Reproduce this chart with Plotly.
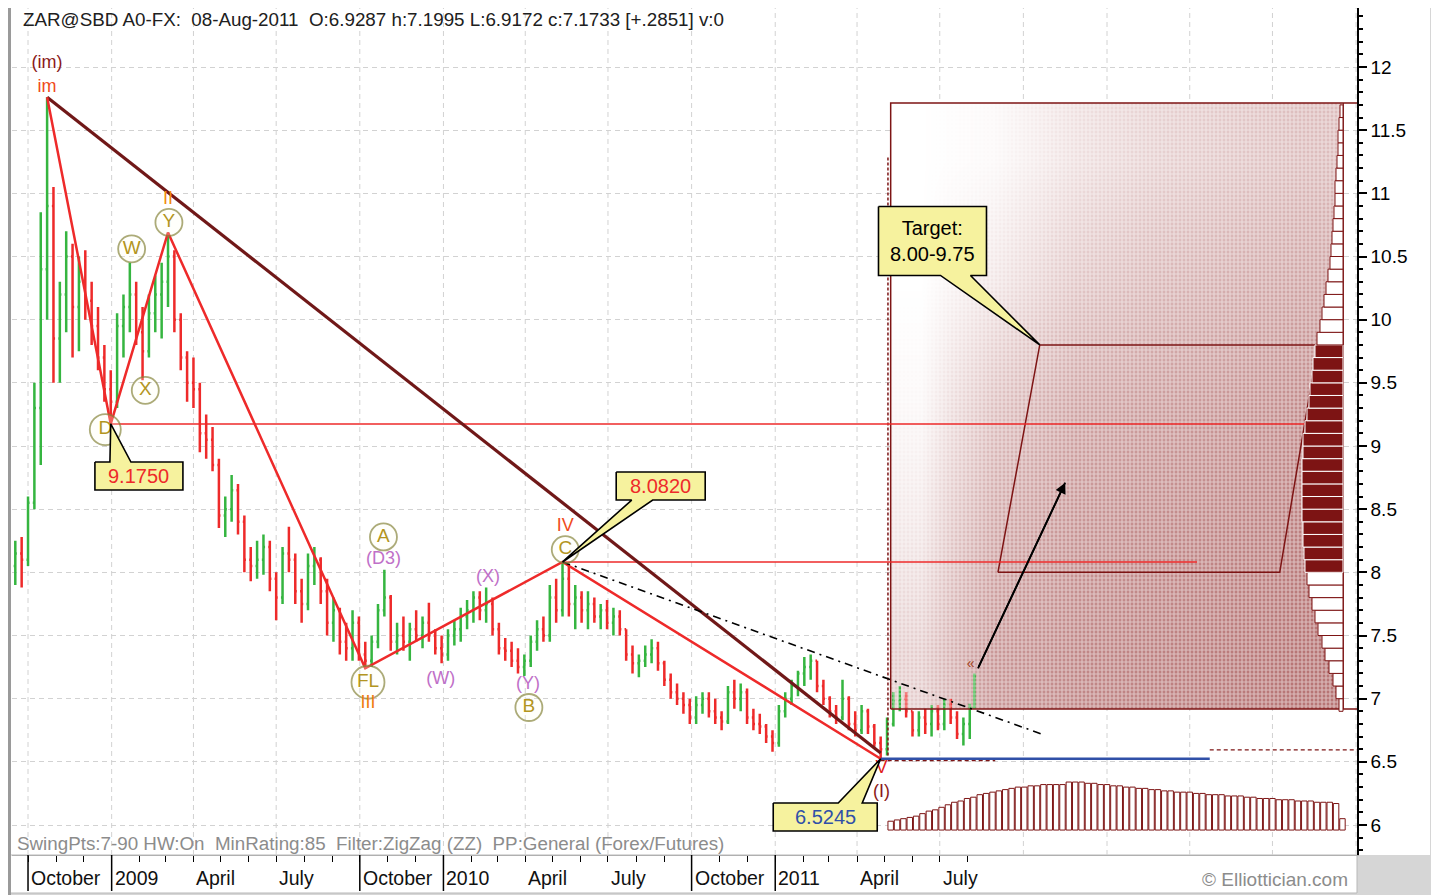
import pandas as pd
import plotly.graph_objects as go

FONT = "Liberation Sans, Arial, sans-serif"

# ---------------- weekly price bars ----------------
bar_dates = list(pd.date_range("2008-09-17", periods=151, freq="7D").strftime("%Y-%m-%d")) + ["2011-08-08"]

opens = [8.05, 8.15, 8.10, 8.55, 9.30, 10.40, 10.90, 9.85, 10.20, 10.50,
         10.10, 10.30, 10.15, 9.95, 9.70, 9.45, 9.35, 9.95, 10.10, 10.20,
         9.90, 9.75, 10.05, 10.20, 10.30, 10.50, 10.00, 9.70, 9.50, 9.45,
         9.10, 9.05, 8.85, 8.45, 8.50, 8.65, 8.40, 8.10, 8.05, 8.10,
         8.20, 7.95, 7.80, 8.15, 8.10, 7.85, 7.75, 8.05, 8.10, 7.85,
         7.60, 7.70, 7.45, 7.40, 7.60, 7.35, 7.30, 7.45, 7.70, 7.80,
         7.45, 7.50, 7.45, 7.55, 7.50, 7.60, 7.50, 7.40, 7.35, 7.50,
         7.55, 7.65, 7.70, 7.80, 7.70, 7.75, 7.55, 7.40, 7.38, 7.30,
         7.25, 7.30, 7.45, 7.55, 7.50, 7.80, 7.70, 7.95, 7.75, 7.80,
         7.70, 7.75, 7.65, 7.70, 7.60, 7.65, 7.55, 7.35, 7.28, 7.30,
         7.35, 7.40, 7.28, 7.15, 7.05, 7.00, 6.95, 6.85, 6.95, 7.00,
         6.90, 6.85, 6.82, 7.05, 7.00, 7.05, 6.85, 6.80, 6.78, 6.70,
         6.65, 6.90, 7.00, 7.10, 7.20, 7.25, 7.30, 7.10, 7.00, 6.90,
         6.85, 7.00, 6.80, 6.75, 6.90, 6.78, 6.65, 6.60, 6.80, 6.98,
         7.00, 6.90, 6.75, 6.85, 6.80, 6.90, 6.80, 6.95, 6.85, 6.72,
         6.80, 6.9287]
highs = [8.25, 8.28, 8.60, 9.50, 10.85, 11.76, 11.05, 10.30, 10.70, 10.60,
         10.50, 10.55, 10.30, 10.10, 9.80, 9.60, 10.05, 10.20, 10.45, 10.30,
         10.10, 10.20, 10.35, 10.45, 10.69, 10.55, 10.05, 9.75, 9.70, 9.50,
         9.25, 9.15, 8.90, 8.60, 8.77, 8.70, 8.45, 8.20, 8.25, 8.30,
         8.25, 8.00, 8.20, 8.36, 8.15, 7.95, 8.15, 8.20, 8.12, 7.95,
         7.80, 7.72, 7.60, 7.70, 7.65, 7.45, 7.50, 7.75, 8.02, 7.82,
         7.60, 7.65, 7.60, 7.70, 7.65, 7.76, 7.55, 7.50, 7.55, 7.62,
         7.72, 7.78, 7.85, 7.85, 7.88, 7.80, 7.60, 7.48, 7.45, 7.40,
         7.35, 7.50, 7.62, 7.65, 7.90, 7.95, 8.082, 8.05, 7.90, 7.85,
         7.85, 7.80, 7.75, 7.78, 7.72, 7.70, 7.55, 7.42, 7.35, 7.42,
         7.47, 7.45, 7.30, 7.20, 7.12, 7.05, 7.00, 7.02, 7.05, 7.05,
         7.00, 6.90, 7.10, 7.15, 7.12, 7.08, 6.92, 6.88, 6.80, 6.75,
         6.95, 7.05, 7.15, 7.22, 7.33, 7.35, 7.30, 7.15, 7.02, 6.95,
         7.15, 7.02, 6.90, 6.95, 6.92, 6.80, 6.70, 6.85, 7.05, 7.10,
         7.05, 6.90, 6.90, 6.92, 6.95, 6.95, 7.00, 7.00, 6.90, 6.85,
         6.96, 7.1995]
lows = [7.90, 7.88, 8.05, 8.50, 8.85, 10.00, 9.50, 9.50, 9.90, 9.70,
        9.75, 10.00, 9.80, 9.60, 9.35, 9.175, 9.30, 9.70, 9.90, 9.80,
        9.52, 9.70, 9.90, 9.85, 10.10, 9.90, 9.60, 9.35, 9.30, 8.95,
        8.90, 8.80, 8.35, 8.28, 8.40, 8.30, 8.00, 7.93, 7.95, 7.98,
        7.85, 7.62, 7.75, 8.00, 7.75, 7.60, 7.70, 7.90, 7.75, 7.50,
        7.45, 7.35, 7.30, 7.30, 7.30, 7.24, 7.25, 7.40, 7.65, 7.38,
        7.35, 7.38, 7.30, 7.45, 7.40, 7.45, 7.35, 7.28, 7.30, 7.42,
        7.45, 7.55, 7.60, 7.62, 7.60, 7.50, 7.35, 7.30, 7.25, 7.20,
        7.18, 7.25, 7.38, 7.45, 7.45, 7.60, 7.65, 7.65, 7.55, 7.60,
        7.55, 7.60, 7.55, 7.55, 7.50, 7.50, 7.30, 7.20, 7.17, 7.25,
        7.28, 7.22, 7.10, 7.00, 6.95, 6.88, 6.80, 6.80, 6.88, 6.85,
        6.80, 6.75, 6.80, 6.92, 6.90, 6.80, 6.75, 6.72, 6.65, 6.58,
        6.62, 6.85, 6.95, 7.02, 7.10, 7.15, 7.05, 6.95, 6.85, 6.80,
        6.83, 6.75, 6.70, 6.72, 6.72, 6.62, 6.5245, 6.55, 6.78, 6.90,
        6.85, 6.70, 6.70, 6.72, 6.70, 6.75, 6.75, 6.80, 6.68, 6.63,
        6.68, 6.9172]
closes = [8.15, 8.10, 8.55, 9.30, 10.40, 10.90, 9.85, 10.20, 10.50, 10.10,
          10.30, 10.15, 9.95, 9.70, 9.45, 9.35, 9.95, 10.10, 10.20, 9.90,
          9.75, 10.05, 10.20, 10.30, 10.50, 10.00, 9.70, 9.50, 9.45, 9.10,
          9.05, 8.85, 8.45, 8.50, 8.65, 8.40, 8.10, 8.05, 8.10, 8.20,
          7.95, 7.80, 8.15, 8.10, 7.85, 7.75, 8.05, 8.10, 7.85, 7.60,
          7.70, 7.45, 7.40, 7.60, 7.35, 7.30, 7.45, 7.70, 7.80, 7.45,
          7.50, 7.45, 7.55, 7.50, 7.60, 7.50, 7.40, 7.35, 7.50, 7.55,
          7.65, 7.70, 7.80, 7.70, 7.75, 7.55, 7.40, 7.38, 7.30, 7.25,
          7.30, 7.45, 7.55, 7.50, 7.80, 7.70, 7.95, 7.75, 7.80, 7.70,
          7.75, 7.65, 7.70, 7.60, 7.65, 7.55, 7.35, 7.28, 7.30, 7.35,
          7.40, 7.28, 7.15, 7.05, 7.00, 6.95, 6.85, 6.95, 7.00, 6.90,
          6.85, 6.82, 7.05, 7.00, 7.05, 6.85, 6.80, 6.78, 6.70, 6.65,
          6.90, 7.00, 7.10, 7.20, 7.25, 7.30, 7.10, 7.00, 6.90, 6.85,
          7.00, 6.80, 6.75, 6.90, 6.78, 6.65, 6.60, 6.80, 6.98, 7.00,
          6.90, 6.75, 6.85, 6.80, 6.90, 6.80, 6.95, 6.85, 6.72, 6.80,
          6.93, 7.1733]

# ---------------- Elliott wave structure ----------------
zz_dates = ["2008-10-22", "2008-12-31", "2009-03-04", "2009-10-07", "2010-05-12", "2011-04-27"]
zz_vals = [11.76, 9.175, 10.69, 7.24, 8.082, 6.5245]

trend_dates = ["2008-10-22", "2011-04-27"]
trend_vals = [11.76, 6.57]

dashdot_dates = ["2010-05-12", "2011-10-25"]
dashdot_vals = [8.082, 6.71]

level_high_dates = ["2008-12-31", "2012-08-18"]
level_high = 9.175
level_mid_dates = ["2010-05-12", "2012-04-09"]
level_mid = 8.082
level_low_dates = ["2011-04-27", "2012-04-23"]
level_low = 6.5245

circ_text = ["D", "W", "X", "Y", "FL", "A", "B", "C"]
circ_dates = ["2008-12-25", "2009-01-23", "2009-02-07", "2009-03-05", "2009-10-10", "2009-10-27", "2010-04-05", "2010-05-15"]
circ_vals = [9.13, 10.56, 9.44, 10.77, 7.13, 8.28, 6.93, 8.18]
circ_size = [31, 27, 27, 27, 33, 27, 27, 27]

wl_text = ["(im)", "im", "II", "III", "IV", "V", "(I)", "(D3)", "(W)", "(X)", "(Y)"]
wl_dates = ["2008-10-22", "2008-10-22", "2009-03-04", "2009-10-10", "2010-05-15", "2011-04-28", "2011-04-28",
            "2009-10-27", "2009-12-29", "2010-02-19", "2010-04-04"]
wl_vals = [12.03, 11.84, 10.955, 6.96, 8.36, 6.45, 6.26, 8.10, 7.155, 7.96, 7.11]
wl_colors = ["#8b1a1a", "#f04a1a", "#f08a10", "#f07a10", "#f04a1a", "#e02020", "#8b1a1a",
             "#c070c8", "#c070c8", "#c070c8", "#c070c8"]

# ---------------- projection ----------------
box_dates = ["2011-05-08", "2012-09-17"]
box_vals = [6.918, 11.715]
edge_date = "2012-10-02"
target_dates = ["2011-09-03", "2011-10-19", "2012-08-20", "2012-07-09"]
target_vals = [8.0, 9.8, 9.8, 8.0]
vdash_date = "2011-05-05"
vdash_vals = [6.55, 11.3]
arrow_dates = ["2011-08-12", "2011-11-16"]
arrow_vals = [7.24, 8.71]

grad_x_edges = ["2011-05-08", "2011-07-15", "2011-10-15", "2012-01-15", "2012-04-15", "2012-07-01", "2012-09-17"]
grad_y_edges = [6.918, 7.8, 8.8, 9.8, 10.8, 11.715]
grad_z = [[0.32, 0.66, 0.76, 0.80, 0.84, 0.88],
          [0.16, 0.56, 0.68, 0.74, 0.78, 0.82],
          [0.05, 0.40, 0.58, 0.64, 0.68, 0.74],
          [0.00, 0.16, 0.36, 0.46, 0.52, 0.58],
          [0.00, 0.04, 0.20, 0.30, 0.36, 0.42]]

prof_levels = [6.95, 7.05, 7.15, 7.25, 7.35, 7.45, 7.55, 7.65, 7.75, 7.85,
               7.95, 8.05, 8.15, 8.25, 8.35, 8.45, 8.55, 8.65, 8.75, 8.85,
               8.95, 9.05, 9.15, 9.25, 9.35, 9.45, 9.55, 9.65, 9.75, 9.85,
               9.95, 10.05, 10.15, 10.25, 10.35, 10.45, 10.55, 10.65, 10.75, 10.85,
               10.95, 11.05, 11.15, 11.25, 11.35, 11.45, 11.55, 11.65]
prof_counts = [4, 7, 10, 14, 18, 21, 25, 28, 31, 34,
               36, 38, 39, 40, 40, 41, 41, 41, 41, 41,
               40, 40, 38, 36, 34, 33, 31, 30, 28, 26,
               23, 21, 19, 17, 15, 13, 12, 11, 10, 9,
               8, 8, 7, 6, 5, 5, 4, 3]

time_dates = list(pd.date_range("2011-05-08", periods=72, freq="7D").strftime("%Y-%m-%d"))
time_tops = [6.03, 6.04, 6.05, 6.06, 6.07, 6.09, 6.11, 6.12, 6.14, 6.16,
             6.18, 6.19, 6.21, 6.22, 6.24, 6.25, 6.26, 6.27, 6.28, 6.29,
             6.30, 6.30, 6.31, 6.31, 6.32, 6.32, 6.32, 6.32, 6.34, 6.34,
             6.34, 6.33, 6.33, 6.32, 6.32, 6.31, 6.31, 6.30, 6.30, 6.29,
             6.29, 6.28, 6.28, 6.27, 6.27, 6.26, 6.26, 6.26, 6.25, 6.25,
             6.24, 6.24, 6.24, 6.23, 6.23, 6.23, 6.22, 6.22, 6.21, 6.21,
             6.21, 6.20, 6.20, 6.20, 6.19, 6.19, 6.19, 6.18, 6.18, 6.18,
             6.17, 6.05]
time_base = 5.96

month_ticks = list(pd.date_range("2008-10-01", "2011-08-01", freq="MS").strftime("%Y-%m-%d"))
quarter_grid = list(pd.date_range("2008-10-01", "2012-10-01", freq="QS").strftime("%Y-%m-%d"))
label_dates = ["2008-10-01", "2009-01-01", "2009-04-01", "2009-07-01", "2009-10-01", "2010-01-01",
               "2010-04-01", "2010-07-01", "2010-10-01", "2011-01-01", "2011-04-01", "2011-07-01"]
label_text = ["October", "2009", "April", "July", "October", "2010",
              "April", "July", "October", "2011", "April", "July"]
major_dates = ["2008-10-01", "2009-01-01", "2009-10-01", "2010-01-01", "2010-10-01", "2011-01-01"]
y_ticks = [6, 6.5, 7, 7.5, 8, 8.5, 9, 9.5, 10, 10.5, 11, 11.5, 12]

# ---------------- axes geometry ----------------
# the page body adds an 8px offset; plot area on screen spans x 12..1357, y 8..855
X_RANGE = ["2008-09-13 09:00", "2012-10-02 00:00"]
Y_RANGE = [5.7625, 12.467]
PLOT_W, PLOT_H = 1345, 847
ML, MR, MT, MB = 4, 82, 0, 40
FIG_W, FIG_H = 1431, 887
MS_PER_PX = (pd.Timestamp(X_RANGE[1]) - pd.Timestamp(X_RANGE[0])) / PLOT_W
VAL_PER_PX = (Y_RANGE[1] - Y_RANGE[0]) / PLOT_H


def shift(date, val, dx, dy):
    t = pd.Timestamp(date) + MS_PER_PX * dx
    return t.strftime("%Y-%m-%d %H:%M:%S"), val - dy * VAL_PER_PX


def px(xs):  # screen x -> paper x
    return (xs - 12) / PLOT_W


def py(ys):  # screen y -> paper y
    return (855 - ys) / PLOT_H


MAROON = "#7d1414"
RED = "#ee2a2a"
GREEN = "#35b540"
YELLOW = "#f6f29e"

fig = go.Figure()

# projection box shading
fig.add_trace(go.Heatmap(x=grad_x_edges, y=grad_y_edges, z=grad_z, zmin=0, zmax=1, zsmooth="best",
                         colorscale=[[0, "#ffffff"], [1, "#ad6262"]], showscale=False, hoverinfo="skip"))
fig.add_trace(go.Scatter(x=[box_dates[0], box_dates[1], box_dates[1], box_dates[0], box_dates[0]],
                         y=[box_vals[0], box_vals[0], box_vals[1], box_vals[1], box_vals[0]],
                         mode="lines", line=dict(width=0), fill="toself", fillcolor="rgba(0,0,0,0)",
                         fillpattern=dict(shape="+", fgcolor="white", bgcolor="rgba(0,0,0,0)", size=4, solidity=0.5),
                         hoverinfo="skip"))

# time histogram (bottom)
fig.add_trace(go.Bar(x=time_dates, y=[t - time_base for t in time_tops], base=time_base,
                     width=6 * 86400000, marker=dict(color="white", line=dict(color=MAROON, width=1)),
                     hoverinfo="skip"))

# price histogram (right)
prof_fill = [MAROON if target_vals[0] <= lv <= target_vals[1] else "white" for lv in prof_levels]
prof_line = ["white" if target_vals[0] <= lv <= target_vals[1] else MAROON for lv in prof_levels]
fig.add_trace(go.Bar(y=prof_levels, x=prof_counts, orientation="h", xaxis="x2", width=0.1,
                     marker=dict(color=prof_fill, line=dict(color=prof_line, width=1)), hoverinfo="skip"))

# box outline, target zone
fig.add_trace(go.Scatter(x=[box_dates[0], box_dates[0], edge_date], y=[box_vals[0], box_vals[1], box_vals[1]],
                         mode="lines", line=dict(color=MAROON, width=1.5), hoverinfo="skip"))
fig.add_trace(go.Scatter(x=[box_dates[0], edge_date], y=[box_vals[0], box_vals[0]],
                         mode="lines", line=dict(color=MAROON, width=1.5), hoverinfo="skip"))
fig.add_trace(go.Scatter(x=[box_dates[1], box_dates[1]], y=box_vals,
                         mode="lines", line=dict(color=MAROON, width=1), hoverinfo="skip"))
fig.add_trace(go.Scatter(x=target_dates + [target_dates[0]], y=target_vals + [target_vals[0]],
                         mode="lines", line=dict(color=MAROON, width=1.5), hoverinfo="skip"))
fig.add_trace(go.Scatter(x=[vdash_date, vdash_date], y=vdash_vals, mode="lines",
                         line=dict(color=MAROON, width=1.5, dash="3px,2px"), hoverinfo="skip"))

# horizontal levels
fig.add_trace(go.Scatter(x=level_high_dates, y=[level_high, level_high], mode="lines",
                         line=dict(color=RED, width=1.5), hoverinfo="skip"))
fig.add_trace(go.Scatter(x=level_mid_dates, y=[level_mid, level_mid], mode="lines",
                         line=dict(color=RED, width=1.5), hoverinfo="skip"))
fig.add_trace(go.Scatter(x=[level_low_dates[0], "2011-08-31"], y=[6.51, 6.51], mode="lines",
                         line=dict(color=MAROON, width=1.2, dash="4px,3px"), hoverinfo="skip"))
fig.add_trace(go.Scatter(x=[level_low_dates[1], edge_date], y=[6.595, 6.595], mode="lines",
                         line=dict(color=MAROON, width=1.2, dash="4px,3px"), hoverinfo="skip"))
fig.add_trace(go.Scatter(x=level_low_dates, y=[level_low, level_low], mode="lines",
                         line=dict(color="#3050a8", width=2.5), hoverinfo="skip"))

# price bars
fig.add_trace(go.Ohlc(x=bar_dates, open=opens, high=highs, low=lows, close=closes,
                      increasing=dict(line=dict(color=GREEN, width=2.5)),
                      decreasing=dict(line=dict(color=RED, width=2.5)),
                      tickwidth=0.35, hoverinfo="skip"))

# trend lines
fig.add_trace(go.Scatter(x=trend_dates, y=trend_vals, mode="lines",
                         line=dict(color="#701818", width=3.2), hoverinfo="skip"))
fig.add_trace(go.Scatter(x=zz_dates, y=zz_vals, mode="lines",
                         line=dict(color=RED, width=2.5), hoverinfo="skip"))
fig.add_trace(go.Scatter(x=dashdot_dates, y=dashdot_vals, mode="lines",
                         line=dict(color="black", width=1.6, dash="8px,5px,2px,5px"), hoverinfo="skip"))
fig.add_trace(go.Scatter(x=arrow_dates, y=arrow_vals, mode="lines",
                         line=dict(color="black", width=1.8), hoverinfo="skip"))

# circled wave labels
fig.add_trace(go.Scatter(x=circ_dates, y=circ_vals, mode="markers+text", text=circ_text,
                         textposition="middle center",
                         textfont=dict(family=FONT, size=19, color="#b39520"),
                         marker=dict(size=circ_size, color="rgba(255,255,240,0.35)",
                                     line=dict(color="#8a8840", width=1.8)), hoverinfo="skip"))
# plain wave labels
fig.add_trace(go.Scatter(x=wl_dates, y=wl_vals, mode="text", text=wl_text, textposition="middle center",
                         textfont=dict(family=FONT, size=18, color=wl_colors), hoverinfo="skip"))
fig.add_trace(go.Scatter(x=["2011-08-04"], y=[7.27], mode="text", text=["«"], textposition="middle center",
                         textfont=dict(family=FONT, size=14, color="#a04020"), hoverinfo="skip"))

# callouts
callouts = [
    dict(c=("2009-01-31", 8.762), w=88, h=28, edge="top", b=(-29, -8), tip=("2008-12-31", 9.175),
         text="9.1750", color=RED),
    dict(c=("2010-08-28", 8.683), w=89, h=28, edge="bottom", b=(-29, -8), tip=("2010-05-12", 8.082),
         text="8.0820", color=RED),
    dict(c=("2011-06-23", 10.623), w=108, h=69, edge="bottom", b=(8, 38), tip=("2011-10-19", 9.8),
         text="Target:<br>8.00-9.75", color="black"),
    dict(c=("2011-02-25", 6.063), w=104, h=28, edge="top", b=(13, 37), tip=("2011-04-27", 6.5245),
         text="6.5245", color="#3050a8"),
]
annotations = []
for co in callouts:
    cd, cv = co["c"]
    hw, hh = co["w"] / 2, co["h"] / 2
    b1, b2 = co["b"]
    tip = co["tip"]
    if co["edge"] == "top":
        pts = [(-hw, -hh), (b1, -hh), None, (b2, -hh), (hw, -hh), (hw, hh), (-hw, hh), (-hw, -hh)]
    else:
        pts = [(-hw, -hh), (hw, -hh), (hw, hh), (b2, hh), None, (b1, hh), (-hw, hh), (-hw, -hh)]
    xs, ys = [], []
    for p in pts:
        if p is None:
            xs.append(tip[0]); ys.append(tip[1])
        else:
            qx, qy = shift(cd, cv, p[0], p[1])
            xs.append(qx); ys.append(qy)
    fig.add_trace(go.Scatter(x=xs, y=ys, mode="lines", fill="toself", fillcolor=YELLOW,
                             line=dict(color="black", width=1.6), hoverinfo="skip"))
    annotations.append(dict(x=cd, y=cv, xref="x", yref="y", text=co["text"], showarrow=False,
                            font=dict(family=FONT, size=20, color=co["color"]),
                            xanchor="center", yanchor="middle"))

# arrow head
annotations.append(dict(x=arrow_dates[1], y=arrow_vals[1], ax=arrow_dates[0], ay=arrow_vals[0],
                        xref="x", yref="y", axref="x", ayref="y", text="", showarrow=True,
                        arrowhead=2, arrowsize=1.2, arrowwidth=1.8, arrowcolor="black"))

# header / footer texts
annotations.append(dict(x=px(21), y=py(19), xref="paper", yref="paper",
                        xanchor="left", yanchor="middle", showarrow=False,
                        text="ZAR@SBD A0-FX:  08-Aug-2011  O:6.9287 h:7.1995 L:6.9172 c:7.1733 [+.2851] v:0",
                        font=dict(family=FONT, size=18.8, color="#202020")))
annotations.append(dict(x=px(15), y=py(843), xref="paper", yref="paper",
                        xanchor="left", yanchor="middle", showarrow=False,
                        text="SwingPts:7-90 HW:On  MinRating:85  Filter:ZigZag (ZZ)  PP:General (Forex/Futures)",
                        font=dict(family=FONT, size=18.8, color="#8c8c8c")))
annotations.append(dict(x=px(1350), y=py(879), xref="paper", yref="paper",
                        xanchor="right", yanchor="middle", showarrow=False,
                        text="© Elliottician.com", font=dict(family=FONT, size=19, color="#8c8c8c")))
for d, t in zip(label_dates, label_text):
    annotations.append(dict(x=d, y=py(878), xref="x", yref="paper", xanchor="left",
                            yanchor="middle", xshift=1, showarrow=False, text=t,
                            font=dict(family=FONT, size=19.5, color="#111111")))

shapes = []
# background panels
shapes.append(dict(type="rect", xref="paper", yref="paper", x0=px(10), x1=px(1430),
                   y0=0, y1=py(4), fillcolor="white", line=dict(width=0), layer="below"))
shapes.append(dict(type="rect", xref="paper", yref="paper", x0=px(10), x1=1,
                   y0=py(893), y1=0, fillcolor="white", line=dict(color="#b8b8b8", width=1),
                   layer="below"))
shapes.append(dict(type="line", xref="paper", yref="paper", x0=px(9.5), x1=px(9.5),
                   y0=py(895), y1=py(0), line=dict(color="#9a9a9a", width=3)))
for g in quarter_grid:
    shapes.append(dict(type="line", xref="x", yref="paper", x0=g, x1=g, y0=0, y1=1,
                       line=dict(color="#d2d2d2", width=1, dash="5px,4px"), layer="below"))
for m in major_dates:
    shapes.append(dict(type="line", xref="x", yref="paper", x0=m, x1=m, y0=0, y1=py(891),
                       line=dict(color="black", width=1.5)))

fig.update_layout(
    width=FIG_W, height=FIG_H, autosize=False,
    margin=dict(l=ML, r=MR, t=MT, b=MB),
    paper_bgcolor="#d6d6d6", plot_bgcolor="white",
    showlegend=False, barmode="overlay",
    annotations=annotations, shapes=shapes,
    xaxis=dict(type="date", range=X_RANGE, rangeslider=dict(visible=False),
               showgrid=False, zeroline=False, showticklabels=False,
               tickmode="array", tickvals=month_ticks, ticks="outside", ticklen=6,
               tickcolor="black", tickwidth=1, showline=True, linecolor="#b0b0b0", linewidth=1),
    xaxis2=dict(overlaying="x", range=[1331, -14], visible=False, showgrid=False, zeroline=False),
    yaxis=dict(side="right", range=Y_RANGE, tickmode="array", tickvals=y_ticks,
               ticktext=[f"{v:g}" for v in y_ticks], ticks="outside", ticklen=8, tickwidth=1.5,
               tickcolor="black", showline=True, linecolor="black", linewidth=1.5,
               showgrid=True, gridcolor="#d2d2d2", griddash="5px,4px", gridwidth=1, zeroline=False,
               tickfont=dict(family=FONT, size=19, color="black"),
               minor=dict(tick0=6, dtick=0.1, ticks="outside", ticklen=4, tickcolor="black", showgrid=False)),
    hovermode=False,
)

fig.write_html("out.html")
